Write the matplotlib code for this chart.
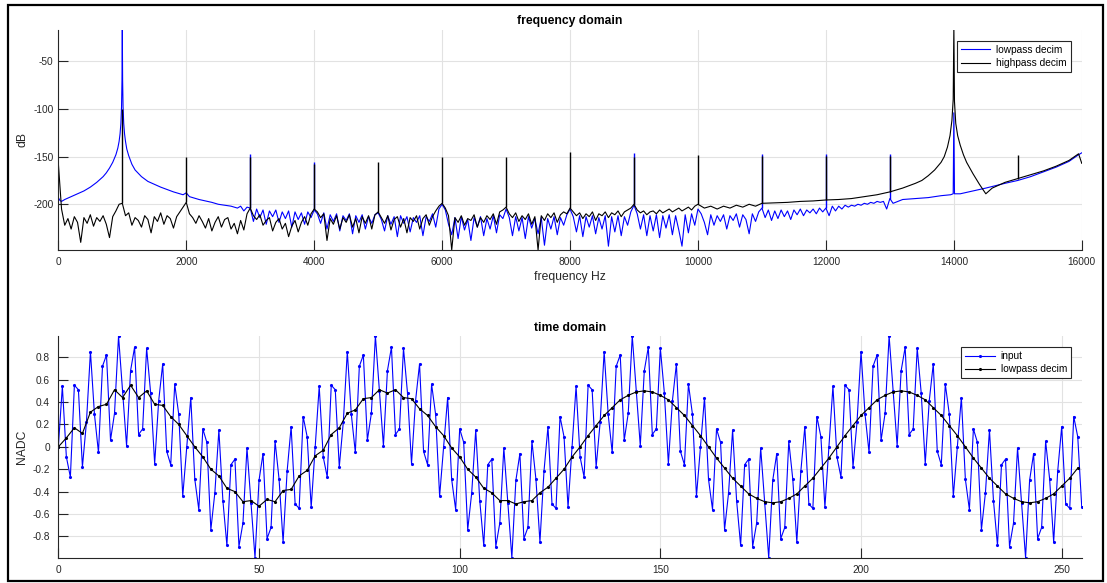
import numpy as np
import matplotlib
matplotlib.use('Agg')
import matplotlib.pyplot as plt
from matplotlib.patches import Rectangle

plt.rcParams['font.family'] = ['Liberation Sans', 'DejaVu Sans']
plt.rcParams['axes.unicode_minus'] = False

# ---------------- frequency domain (dB) ----------------
# lowpass decim: smooth part 0..2950 Hz
blue_lo_f = [0, 25, 50, 100, 200, 300, 400, 500, 600, 700, 750, 800, 850, 900, 930, 950,
             965, 978, 988, 995, 1000, 1005, 1012, 1022, 1035, 1050, 1070, 1100, 1150, 1200,
             1300, 1400, 1500, 1600, 1800, 1950, 2000, 2050, 2200, 2400, 2500, 2600, 2700,
             2800, 2850, 2900, 2950]
blue_lo_db = [-193, -196, -197, -195, -192, -189, -186, -182, -177, -171, -167, -162, -156, -148, -141, -134,
              -126, -115, -98, -70, -17, -70, -98, -115, -126, -134, -142, -149, -158, -164,
              -171, -176, -179, -182, -187, -190, -188, -192, -195, -198, -200, -201, -202,
              -204, -202, -207, -203]
# lowpass decim: noisy part 3000..12950 Hz, one value per 50 Hz
blue_noise_db = [
    -204, -218, -205, -214, -206, -221, -207, -213, -206, -219, -208, -215, -207, -224, -208, -216, -209, -221, -208, -214,
    -206, -210, -220, -209, -226, -211, -218, -210, -228, -212, -217, -210, -231, -212, -219, -211, -226, -213, -220, -211,
    -209, -216, -228, -212, -221, -213, -234, -212, -220, -213, -229, -214, -219, -212, -233, -213, -218, -210, -224, -205,
    -200, -206, -221, -232, -214, -236, -213, -227, -216, -238, -214, -224, -213, -233, -215, -226, -212, -230, -211, -215,
    -205, -214, -233, -213, -228, -214, -236, -213, -225, -215, -231, -214, -243, -215, -226, -213, -232, -214, -222, -211,
    -205, -213, -229, -212, -234, -213, -224, -212, -231, -214, -226, -212, -244, -213, -229, -212, -233, -213, -222, -208,
    -201, -210, -226, -211, -233, -212, -228, -211, -235, -212, -225, -211, -232, -212, -227, -244, -211, -230, -210, -222,
    -205, -210, -219, -232, -211, -222, -212, -218, -211, -226, -212, -217, -210, -224, -211, -216, -231, -210, -218, -208,
    -204, -214, -206, -217, -207, -215, -206, -213, -207, -216, -206, -211, -205, -212, -206, -209, -205, -210, -204, -208,
    -204, -212, -202, -207, -202, -205, -201, -203, -201, -202, -200, -201, -199, -200, -198, -199, -197, -198, -197, -205,
]
blue_hi_f = [13000, 13050, 13200, 13400, 13600, 13800, 13950, 13990, 14000, 14010, 14100,
             14300, 14500, 14800, 15000, 15200, 15400, 15600, 15800, 15950, 16000]
blue_hi_db = [-194, -199, -195, -194, -193, -191, -190, -189, -104, -189, -189,
              -186, -183, -178, -175, -171, -166, -161, -155, -148, -146]
blue_spike_f = [3000, 4000, 9000, 11000, 12000, 13000]
blue_spike_db = [-147.5, -155.5, -146.5, -147, -147, -147]

# highpass decim: noisy part 0..9950 Hz, one value per 50 Hz
black_noise_db = [
    -157, -205, -222, -215, -226, -213, -219, -240, -214, -220, -211, -223, -214, -218, -212, -221, -235, -213, -207, -200,
    -199, -212, -209, -222, -214, -217, -224, -212, -216, -230, -213, -218, -209, -221, -212, -215, -225, -213, -208, -203,
    -198, -210, -214, -220, -212, -218, -225, -215, -228, -219, -213, -224, -216, -214, -226, -220, -231, -217, -227, -210,
    -204, -212, -216, -211, -222, -217, -214, -228, -219, -215, -226, -220, -234, -223, -217, -229, -219, -213, -222, -210,
    -205, -208, -214, -210, -238, -215, -221, -212, -226, -214, -219, -211, -224, -215, -230, -213, -220, -212, -226, -211,
    -208, -214, -220, -212, -227, -216, -213, -224, -215, -230, -214, -218, -212, -226, -215, -211, -222, -213, -207, -202,
    -199, -204, -212, -248, -214, -219, -212, -222, -215, -217, -211, -224, -214, -219, -212, -216, -210, -221, -208, -206,
    -203, -210, -214, -209, -218, -212, -216, -210, -221, -213, -248, -212, -217, -210, -214, -209, -219, -211, -208, -210,
    -204, -208, -212, -209, -215, -210, -213, -208, -217, -210, -212, -208, -214, -209, -211, -207, -213, -208, -206, -204,
    -200, -206, -209, -207, -211, -208, -207, -210, -206, -209, -207, -205, -208, -206, -204, -207, -205, -203, -206, -202,
]
black_hi_f = [10000, 10100, 10200, 10300, 10400, 10500, 10600, 10700, 10800, 10900, 11000, 11200,
              11400, 11600, 11800, 12000, 12200, 12400, 12600, 12800, 13000, 13200, 13400, 13500,
              13600, 13700, 13800, 13850, 13900, 13940, 13970, 13990, 14000, 14010, 14030, 14060,
              14100, 14150, 14200, 14300, 14400, 14500, 14550, 14600, 14700, 14800, 14900, 15000,
              15200, 15400, 15600, 15800, 15950, 16000]
black_hi_db = [-200, -204, -202, -205, -202, -204, -201, -203, -200, -202, -199, -198.5,
               -198, -197, -196.5, -195.5, -195, -194, -192, -190, -187, -183, -178, -175,
               -170, -164, -156, -150, -140, -128, -112, -90, -17, -92, -115, -128,
               -138, -148, -156, -168, -179, -189, -186, -183, -180, -177, -175, -173,
               -169, -165, -160, -154, -147, -157]
black_spike_f = [1000, 2000, 3000, 4000, 5000, 6000, 7000, 8000, 9000, 10000, 11000, 12000, 13000, 15000]
black_spike_db = [-100, -150, -150, -158, -156, -150, -150, -145, -150, -148, -149, -149, -149, -148]

freq_ticks = [0, 2000, 4000, 6000, 8000, 10000, 12000, 14000, 16000]
db_ticks = [-200, -150, -100, -50]

# ---------------- time domain ----------------
input_vals = [
    0.00, 0.54, -0.09, -0.27, 0.55, 0.51, -0.18, 0.22, 0.85, 0.29, -0.05, 0.72, 0.82, 0.06, 0.30, 0.99,
    0.50, 0.01, 0.68, 0.89, 0.11, 0.16, 0.88, 0.48, -0.15, 0.41, 0.74, -0.04, -0.16, 0.56, 0.29, -0.44,
    0.00, 0.44, -0.29, -0.56, 0.16, 0.04, -0.74, -0.41, 0.15, -0.48, -0.88, -0.16, -0.11, -0.89, -0.68, -0.01,
    -0.50, -0.99, -0.30, -0.06, -0.82, -0.72, 0.05, -0.29, -0.85, -0.22, 0.18, -0.51, -0.55, 0.27, 0.09, -0.54,
    0.00, 0.54, -0.09, -0.27, 0.55, 0.51, -0.18, 0.22, 0.85, 0.29, -0.05, 0.72, 0.82, 0.06, 0.30, 0.99,
    0.50, 0.01, 0.68, 0.89, 0.11, 0.16, 0.88, 0.48, -0.15, 0.41, 0.74, -0.04, -0.16, 0.56, 0.29, -0.44,
    0.00, 0.44, -0.29, -0.56, 0.16, 0.04, -0.74, -0.41, 0.15, -0.48, -0.88, -0.16, -0.11, -0.89, -0.68, -0.01,
    -0.50, -0.99, -0.30, -0.06, -0.82, -0.72, 0.05, -0.29, -0.85, -0.22, 0.18, -0.51, -0.55, 0.27, 0.09, -0.54,
    0.00, 0.54, -0.09, -0.27, 0.55, 0.51, -0.18, 0.22, 0.85, 0.29, -0.05, 0.72, 0.82, 0.06, 0.30, 0.99,
    0.50, 0.01, 0.68, 0.89, 0.11, 0.16, 0.88, 0.48, -0.15, 0.41, 0.74, -0.04, -0.16, 0.56, 0.29, -0.44,
    0.00, 0.44, -0.29, -0.56, 0.16, 0.04, -0.74, -0.41, 0.15, -0.48, -0.88, -0.16, -0.11, -0.89, -0.68, -0.01,
    -0.50, -0.99, -0.30, -0.06, -0.82, -0.72, 0.05, -0.29, -0.85, -0.22, 0.18, -0.51, -0.55, 0.27, 0.09, -0.54,
    0.00, 0.54, -0.09, -0.27, 0.55, 0.51, -0.18, 0.22, 0.85, 0.29, -0.05, 0.72, 0.82, 0.06, 0.30, 0.99,
    0.50, 0.01, 0.68, 0.89, 0.11, 0.16, 0.88, 0.48, -0.15, 0.41, 0.74, -0.04, -0.16, 0.56, 0.29, -0.44,
    0.00, 0.44, -0.29, -0.56, 0.16, 0.04, -0.74, -0.41, 0.15, -0.48, -0.88, -0.16, -0.11, -0.89, -0.68, -0.01,
    -0.50, -0.99, -0.30, -0.06, -0.82, -0.72, 0.05, -0.29, -0.85, -0.22, 0.18, -0.51, -0.55, 0.27, 0.09, -0.54,
]
# lowpass decim output, one value every 2 input samples
lowpass_vals = [
    0.00, 0.08, 0.17, 0.12, 0.31, 0.36, 0.38, 0.51, 0.44, 0.55, 0.44, 0.50, 0.38, 0.37, 0.27, 0.20,
    0.10, 0.00, -0.09, -0.20, -0.26, -0.37, -0.40, -0.49, -0.48, -0.53, -0.47, -0.49, -0.39, -0.38, -0.26, -0.21,
    -0.08, -0.03, 0.11, 0.17, 0.30, 0.33, 0.43, 0.44, 0.51, 0.48, 0.51, 0.44, 0.43, 0.34, 0.28, 0.18,
    0.10, -0.01, -0.09, -0.20, -0.27, -0.37, -0.41, -0.48, -0.48, -0.51, -0.49, -0.48, -0.41, -0.36, -0.28, -0.20,
    -0.09, 0.00, 0.10, 0.19, 0.28, 0.35, 0.42, 0.46, 0.49, 0.50, 0.49, 0.46, 0.42, 0.35, 0.28, 0.19,
    0.10, 0.00, -0.10, -0.19, -0.28, -0.35, -0.42, -0.46, -0.49, -0.50, -0.49, -0.46, -0.42, -0.35, -0.28, -0.19,
    -0.10, 0.00, 0.10, 0.19, 0.28, 0.35, 0.42, 0.46, 0.49, 0.50, 0.49, 0.46, 0.42, 0.35, 0.28, 0.19,
    0.10, 0.00, -0.10, -0.19, -0.28, -0.35, -0.42, -0.46, -0.49, -0.50, -0.49, -0.46, -0.42, -0.35, -0.28, -0.19,
]
time_ticks = [0, 50, 100, 150, 200, 250]
nadc_ticks = [-0.8, -0.6, -0.4, -0.2, 0, 0.2, 0.4, 0.6, 0.8]
nadc_labels = ['-0.8', '-0.6', '-0.4', '-0.2', '0', '0.2', '0.4', '0.6', '0.8']

BLUE = '#0000ff'
AXC = '#262626'


def style(ax, ypad):
    for s in ['top', 'right']:
        ax.spines[s].set_visible(False)
    for s in ['left', 'bottom']:
        ax.spines[s].set_color(AXC)
        ax.spines[s].set_linewidth(0.8)
    ax.tick_params(direction='in', length=7, width=0.8, colors=AXC, labelsize=7.3)
    ax.tick_params(axis='x', pad=5)
    ax.tick_params(axis='y', pad=ypad)
    ax.grid(True, color='#e2e2e2', lw=0.8)
    ax.set_axisbelow(True)


fig = plt.figure(figsize=(11.07, 5.83), dpi=100)
ax1 = fig.add_axes([0.0527, 0.5712, 0.9245, 0.3774])
ax2 = fig.add_axes([0.0527, 0.0434, 0.9245, 0.3803])

# top: spectra
blue_f = np.concatenate([blue_lo_f, 3000 + 50 * np.arange(len(blue_noise_db)), blue_hi_f])
blue_db = np.concatenate([blue_lo_db, blue_noise_db, blue_hi_db])
black_f = np.concatenate([50 * np.arange(len(black_noise_db)), black_hi_f])
black_db = np.concatenate([black_noise_db, black_hi_db])

l1, = ax1.plot(blue_f, blue_db, color=BLUE, lw=0.8, label='lowpass decim')
ax1.vlines(blue_spike_f, np.interp(blue_spike_f, blue_f, blue_db), blue_spike_db, color=BLUE, lw=1.0)
l2, = ax1.plot(black_f, black_db, color='k', lw=0.8, label='highpass decim')
ax1.vlines(black_spike_f, np.interp(black_spike_f, black_f, black_db), black_spike_db, color='k', lw=1.0)

ax1.set_xlim(0, 16000)
ax1.set_ylim(-248, -17)
ax1.set_xticks(freq_ticks)
ax1.set_yticks(db_ticks)
style(ax1, 3.6)
ax1.set_title('frequency domain', fontsize=8.7, fontweight='bold', pad=4)
ax1.set_xlabel('frequency Hz', fontsize=8.7, color=AXC, labelpad=3)
ax1.set_ylabel('dB', fontsize=8.7, color=AXC, labelpad=3)
leg1 = ax1.legend(handles=[l1, l2], loc='upper right', bbox_to_anchor=(0.9895, 0.95), fontsize=7.3,
                  fancybox=False, edgecolor=AXC, framealpha=1, handlelength=2.9,
                  handletextpad=0.6, borderpad=0.4, labelspacing=0.3, borderaxespad=0)
leg1.get_frame().set_linewidth(0.8)

# bottom: time signals
t_in = np.arange(len(input_vals))
t_lp = 2 * np.arange(len(lowpass_vals))
h1, = ax2.plot(t_in, input_vals, color=BLUE, lw=0.8, marker='.', ms=2.5, label='input')
h2, = ax2.plot(t_lp, lowpass_vals, color='k', lw=0.8, marker='.', ms=2.5, label='lowpass decim')
ax2.set_xlim(0, 255)
ax2.set_ylim(-0.99, 0.99)
ax2.set_xticks(time_ticks)
ax2.set_yticks(nadc_ticks)
ax2.set_yticklabels(nadc_labels)
style(ax2, 6.0)
ax2.set_title('time domain', fontsize=8.7, fontweight='bold', pad=3.5)
ax2.set_ylabel('NADC', fontsize=8.7, color=AXC, labelpad=3)
leg2 = ax2.legend(handles=[h1, h2], loc='upper right', bbox_to_anchor=(0.9895, 0.95), fontsize=7.3,
                  fancybox=False, edgecolor=AXC, framealpha=1, handlelength=2.9, numpoints=1,
                  handletextpad=0.6, borderpad=0.4, labelspacing=0.3, borderaxespad=0)
leg2.get_frame().set_linewidth(0.8)

# outer frame of the screenshot
fig.patches.append(Rectangle((8 / 1107, 2 / 583), 1095 / 1107, 576 / 583, transform=fig.transFigure,
                             fill=False, edgecolor='k', lw=1.6))

fig.savefig('out.png', dpi=100)
